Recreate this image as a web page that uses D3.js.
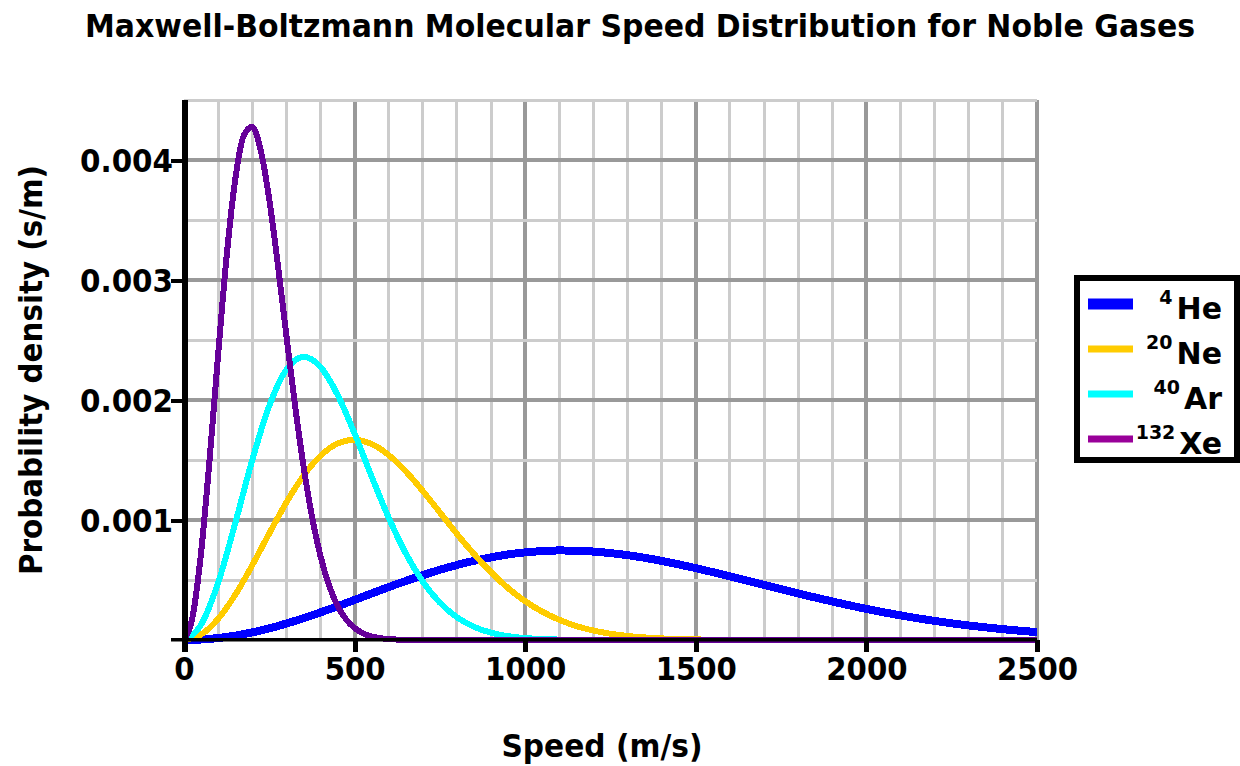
<!DOCTYPE html>
<html>
<head>
<meta charset="utf-8">
<title>Maxwell-Boltzmann Molecular Speed Distribution</title>
<script src="https://cdn.jsdelivr.net/npm/d3@7"></script>
<style>
body{margin:0;background:#fff;}
svg text{font-family:"DejaVu Sans",sans-serif;font-weight:bold;fill:#000;}
</style>
</head>
<body>
<div id="chart"></div>
<script>
// speeds in m/s, densities in s/m
var speeds=[0,50,100,150,200,250,300,350,400,450,500,550,600,650,700,750,800,850,900,950,
  1000,1050,1100,1150,1200,1250,1300,1350,1400,1450,1500,1550,1600,1650,1700,1750,1800,1850,1900,1950,
  2000,2050,2100,2150,2200,2250,2300,2350,2400,2450,2500];

var heDensity=[0,0.0000041,0.0000162,0.0000362,0.0000634,0.0000973,0.000137,0.000182,0.000230,0.000281,
  0.000334,0.000388,0.000441,0.000492,0.000540,0.000585,0.000625,0.000660,0.000689,0.000713,
  0.000730,0.000741,0.000746,0.000744,0.000737,0.000724,0.000707,0.000685,0.000659,0.000630,
  0.000599,0.000565,0.000531,0.000495,0.000459,0.000423,0.000388,0.000354,0.000321,0.000289,
  0.000259,0.000231,0.000205,0.000181,0.000159,0.000139,0.000121,0.000105,0.0000901,0.0000772,0.0000659];

var neDensity=[0,0.0000453,0.000176,0.000376,0.000623,0.000889,0.001146,0.001368,0.001535,0.001637,
  0.001668,0.001633,0.001541,0.001405,0.001241,0.001063,0.000884,0.000716,0.000564,0.000432,
  0.000323,0.000236,0.000168,0.000116,0.0000787,0.0000521,0.0000337,0.0000213,0.0000131,0.0000079,
  0.0000047,0.0000027,0.0000015,0.0000008,0.0000004,0.0000002,0,0,0,0,
  0,0,0,0,0,0,0,0,0,0,0];

var arDensity=[0,0.000127,0.000477,0.000971,0.001499,0.001953,0.002253,0.002359,0.002276,0.002044,
  0.001720,0.001362,0.001019,0.000722,0.000486,0.000311,0.000189,0.000110,0.0000606,0.0000320,
  0.0000162,0.0000078,0.0000036,0.0000016,0.0000007,0.0000003,0,0,0,0,
  0,0,0,0,0,0,0,0,0,0,
  0,0,0,0,0,0,0,0,0,0,0];

// xenon peak is narrow, read at a finer step
var xeSpeeds=[0,25,50,75,100,125,150,175,200,225,250,275,300,325,350,375,400,425,450,475,
  500,525,550,575,600,625,650,700,800,1000,1500,2000,2500];
var xeDensity=[0,0.000191,0.000726,0.001503,0.002377,0.003198,0.003834,0.004203,0.004276,0.004078,
  0.003669,0.003129,0.002539,0.001966,0.001454,0.001031,0.000700,0.000456,0.000285,0.000172,
  0.0000995,0.0000553,0.0000297,0.0000154,0.0000076,0.0000037,0.0000017,0.0000003,0,0,0,0,0];

var gasNames=['He','Ne','Ar','Xe'];
var massNumbers=['4','20','40','132'];
var lineColors=['#0000ff','#ffcc00','#00ffff','#660099'];
var keyColors=['#0000ff','#ffcc00','#00ffff','#990099'];

var xTicks=[0,500,1000,1500,2000,2500];
var yTicks=[0.001,0.002,0.003,0.004];

var w=1240,h=766;
var plotL=184,plotR=1037,plotT=100,plotB=640;

var svg=d3.select('#chart').append('svg')
  .attr('width',w).attr('height',h);

var x=d3.scaleLinear().domain([0,2500]).range([plotL,plotR]);
var y=d3.scaleLinear().domain([0,0.0045]).range([plotB,plotT]);

// grid
var grid=svg.append('g').attr('shape-rendering','crispEdges');
grid.selectAll('.vg').data(d3.range(100,2501,100)).enter().append('line')
  .attr('x1',function(d){return x(d);}).attr('x2',function(d){return x(d);})
  .attr('y1',plotT).attr('y2',plotB)
  .attr('stroke',function(d){return d%500==0?'#999999':'#cccccc';})
  .attr('stroke-width',function(d){return d%500==0?4:3;});
grid.selectAll('.hg').data(d3.range(1,10)).enter().append('line')
  .attr('x1',plotL).attr('x2',plotR)
  .attr('y1',function(d){return y(d*0.0005);}).attr('y2',function(d){return y(d*0.0005);})
  .attr('stroke',function(d){return d%2==0?'#999999':'#cccccc';})
  .attr('stroke-width',function(d){return d%2==0?4:3;});

// curves
var line=d3.line()
  .x(function(d){return x(d[0]);})
  .y(function(d){return y(d[1]);})
  .curve(d3.curveMonotoneX);

var series=[
  {pts:d3.zip(speeds,heDensity),width:8},
  {pts:d3.zip(speeds,neDensity),width:6},
  {pts:d3.zip(speeds,arDensity),width:6},
  {pts:d3.zip(xeSpeeds,xeDensity),width:6}
];
svg.append('g').selectAll('path').data(series).enter().append('path')
  .attr('d',function(d){return line(d.pts);})
  .attr('fill','none')
  .attr('stroke',function(d,i){return lineColors[i];})
  .attr('stroke-width',function(d){return d.width;})
  .attr('stroke-linejoin','round')
  .attr('shape-rendering','crispEdges');

// axes
var xAxis=svg.append('g').attr('transform','translate(0,'+plotB+')')
  .call(d3.axisBottom(x).tickValues(xTicks).tickSize(12).tickSizeOuter(0).tickFormat(d3.format('d')));
xAxis.select('.domain').remove();
xAxis.selectAll('line').attr('stroke','#000').attr('stroke-width',5).attr('shape-rendering','crispEdges');
xAxis.selectAll('text').attr('y',40).attr('dy',0)
  .attr('font-size',32)
  .attr('textLength',function(d){return String(d).length*20.3;})
  .attr('lengthAdjust','spacingAndGlyphs');

var yAxis=svg.append('g').attr('transform','translate('+plotL+',0)')
  .call(d3.axisLeft(y).tickValues(yTicks).tickSize(13).tickSizeOuter(0).tickFormat(d3.format('.3f')));
yAxis.select('.domain').remove();
yAxis.selectAll('line').attr('stroke','#000').attr('stroke-width',4).attr('shape-rendering','crispEdges');
yAxis.selectAll('text').attr('x',-11).attr('dy',0).attr('y',11)
  .attr('font-size',32)
  .attr('textLength',93)
  .attr('lengthAdjust','spacingAndGlyphs');

svg.append('rect').attr('x',182).attr('y',plotT).attr('width',6).attr('height',552).attr('fill','#000');
svg.append('rect').attr('x',171).attr('y',638).attr('width',plotR-171).attr('height',3.5).attr('fill','#000');

// titles
svg.append('text').attr('x',640).attr('y',37).attr('text-anchor','middle')
  .attr('font-size',32).attr('textLength',1110).attr('lengthAdjust','spacingAndGlyphs')
  .text('Maxwell-Boltzmann Molecular Speed Distribution for Noble Gases');
svg.append('text').attr('x',602).attr('y',757).attr('text-anchor','middle')
  .attr('font-size',32).attr('textLength',201).attr('lengthAdjust','spacingAndGlyphs')
  .text('Speed (m/s)');
svg.append('text').attr('transform','translate(42,370) rotate(-90)').attr('text-anchor','middle')
  .attr('font-size',32).attr('textLength',410).attr('lengthAdjust','spacingAndGlyphs')
  .text('Probability density (s/m)');

// legend
svg.append('rect').attr('x',1077).attr('y',278).attr('width',160).attr('height',182)
  .attr('fill','#fff').attr('stroke','#000').attr('stroke-width',6);
var key=svg.append('g').selectAll('g').data(gasNames).enter().append('g')
  .attr('transform',function(d,i){return 'translate(0,'+(304+i*45)+')';});
key.append('rect').attr('x',1088).attr('width',45)
  .attr('y',function(d,i){return i==0?-5.5:-3.5;})
  .attr('height',function(d,i){return i==0?11:7;})
  .attr('fill',function(d,i){return keyColors[i];});
var lab=key.append('text').attr('x',1222).attr('y',15).attr('text-anchor','end');
lab.append('tspan').attr('font-size',19).attr('dy',-15).text(function(d,i){return massNumbers[i];});
lab.append('tspan').attr('font-size',30).attr('dy',15).attr('dx',4).text(function(d){return d;});
</script>
</body>
</html>
